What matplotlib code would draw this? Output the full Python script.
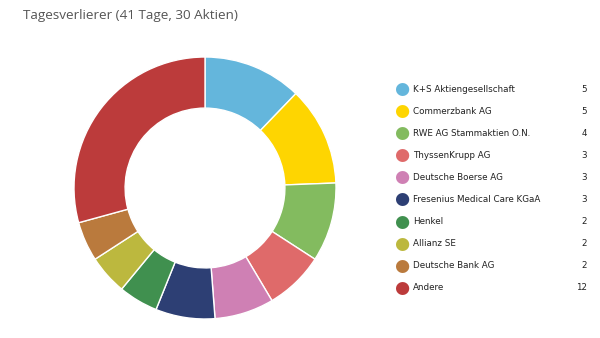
import matplotlib.pyplot as plt

names = ['K+S Aktiengesellschaft', 'Commerzbank AG', 'RWE AG Stammaktien O.N.',
         'ThyssenKrupp AG', 'Deutsche Boerse AG', 'Fresenius Medical Care KGaA',
         'Henkel', 'Allianz SE', 'Deutsche Bank AG', 'Andere']
counts = [5, 5, 4, 3, 3, 3, 2, 2, 2, 12]
colors = ['#64b6dc', '#fed501', '#83bb5f', '#df6a6a', '#cf80b4', '#2d3f74',
          '#40904f', '#bcb83e', '#ba7a3d', '#bc3b3b']

fig = plt.figure(figsize=(6, 3.38), dpi=100)

# donut
ax = fig.add_axes([74 / 600, 19 / 338, 262 / 600, 262 / 338])
ax.pie(counts, colors=colors, startangle=90, counterclock=False,
       wedgeprops=dict(width=0.39, edgecolor='white', linewidth=1))
ax.set_xlim(-1, 1)
ax.set_ylim(-1, 1)
ax.set_aspect('equal')
ax.axis('off')

fig.text(23 / 600, 1 - 16 / 338, 'Tagesverlierer (41 Tage, 30 Aktien)',
         fontsize=9.7, color='#555555', family='Open Sans', va='center')

# legend drawn by hand
for i, (n, c, col) in enumerate(zip(names, counts, colors)):
    y = 1 - (89 + i * 22.1) / 338
    fig.text(402 / 600, y, '\u25cf', color=col, fontsize=12.5, ha='center', va='center')
    fig.text(413 / 600, y, n, fontsize=6.3, color='#222222', va='center')
    fig.text(587 / 600, y, str(c), fontsize=6.3, color='#222222', va='center', ha='right')

fig.savefig('out.png', dpi=100)
